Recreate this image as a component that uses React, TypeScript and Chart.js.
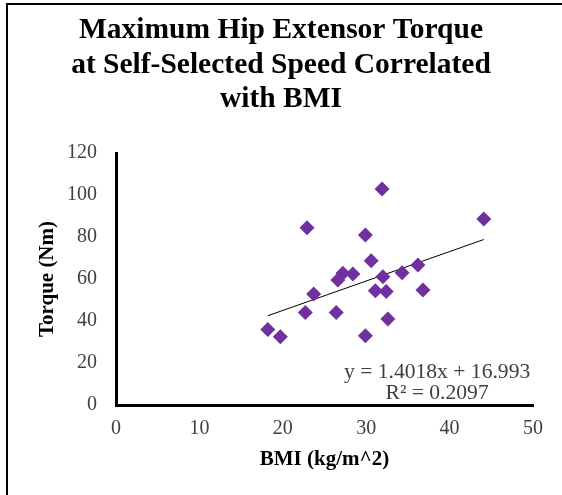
import React, { useEffect, useRef } from "react";
import { Chart, registerables } from "chart.js";

Chart.register(...registerables);

const titleLines = ["Maximum Hip Extensor Torque", "at Self-Selected Speed Correlated", "with BMI"];
const xAxisTitle = "BMI (kg/m^2)";
const yAxisTitle = "Torque (Nm)";

const bmi = [31.9, 44.1, 22.9, 29.9, 30.6, 36.2, 34.3, 28.4, 27.2, 26.6, 32.0, 31.1, 32.4, 36.8, 23.7, 22.7, 26.4, 32.6, 18.2, 19.7, 29.9];
const torque = [102.9, 88.6, 84.4, 81.0, 68.7, 66.7, 63.0, 62.4, 62.7, 59.5, 61.1, 54.4, 54.0, 54.8, 52.9, 44.0, 44.0, 41.0, 36.0, 32.5, 33.0];

const slope = 1.4018;
const intercept = 16.993;
const equationLines = ["y = 1.4018x + 16.993", "R\u00B2 = 0.2097"];

const xMin = 0, xMax = 50, xStep = 10;
const yMin = 0, yMax = 120, yStep = 20;

const SERIF = "'Liberation Serif', 'Times New Roman', serif";

export default function App() {
  const ref = useRef<HTMLCanvasElement>(null);

  useEffect(() => {
    if (!ref.current) return;
    const points = bmi.map((x, i) => ({ x, y: torque[i] }));
    const lo = Math.min(...bmi);
    const hi = Math.max(...bmi);
    const trend = [lo, hi].map((x) => ({ x, y: slope * x + intercept }));

    const decor = {
      id: "decor",
      beforeDraw(chart: any) {
        const ctx = chart.ctx;
        ctx.save();
        ctx.fillStyle = "#ffffff";
        ctx.fillRect(0, 0, chart.width, chart.height);
        ctx.fillStyle = "#000000";
        ctx.fillRect(6, 3, 2, chart.height);
        ctx.fillRect(6, 3, chart.width, 2);
        ctx.restore();
      },
      afterDraw(chart: any) {
        const ctx = chart.ctx;
        const xs = chart.scales.x;
        const ys = chart.scales.y;
        const cx = xs.getPixelForValue(38.5);
        const by = ys.getPixelForValue(12.9);
        ctx.save();
        ctx.fillStyle = "#404040";
        ctx.font = `21.6px ${SERIF}`;
        ctx.textAlign = "center";
        ctx.textBaseline = "alphabetic";
        equationLines.forEach((t, i) => ctx.fillText(t, cx, by + i * 21));
        ctx.restore();
      },
    };

    const chart = new Chart(ref.current, {
      type: "scatter",
      data: {
        datasets: [
          {
            label: "Torque",
            data: points,
            pointStyle: "rectRot",
            pointRadius: 7.5,
            pointBackgroundColor: "#7030A0",
            pointBorderWidth: 0,
            borderColor: "#7030A0",
          },
          {
            label: "Trend",
            data: trend,
            showLine: true,
            pointRadius: 0,
            borderColor: "#000000",
            borderWidth: 1,
          } as any,
        ],
      },
      options: {
        responsive: false,
        animation: false,
        layout: { padding: { left: 29, right: 29, top: 0, bottom: 0 } },
        plugins: {
          legend: { display: false },
          tooltip: { enabled: false },
          title: {
            display: true,
            text: titleLines,
            color: "#000000",
            font: { family: SERIF, size: 29.5, weight: "bold", lineHeight: 1.17 },
            padding: { top: 13.5, bottom: 36 },
          },
        },
        scales: {
          x: {
            type: "linear",
            min: xMin,
            max: xMax,
            grid: { display: false, drawTicks: false },
            border: { display: true, color: "#000000", width: 3 },
            ticks: { stepSize: xStep, color: "#404040", font: { family: SERIF, size: 20 }, padding: 12 },
            title: {
              display: true,
              text: xAxisTitle,
              color: "#000000",
              font: { family: SERIF, size: 21, weight: "bold", lineHeight: 1.2 },
              padding: { top: 0, bottom: 22.4 },
            },
            afterFit(scale: any) {
              scale.height = 90;
            },
          },
          y: {
            type: "linear",
            min: yMin,
            max: yMax,
            grid: { display: false, drawTicks: false },
            border: { display: true, color: "#000000", width: 3 },
            ticks: { stepSize: yStep, color: "#404040", font: { family: SERIF, size: 20 }, padding: 19 },
            title: {
              display: true,
              text: yAxisTitle,
              color: "#000000",
              font: { family: SERIF, size: 21, weight: "bold", lineHeight: 1.2 },
              padding: { top: 6, bottom: 0 },
            },
            afterFit(scale: any) {
              scale.width = 87;
            },
          },
        },
      },
      plugins: [decor],
    });
    return () => chart.destroy();
  }, []);

  return (
    <div style={{ position: "fixed", left: 0, top: 0, width: 562, height: 495, background: "#fff" }}>
      <canvas ref={ref} width={562} height={495} style={{ display: "block" }} />
    </div>
  );
}
